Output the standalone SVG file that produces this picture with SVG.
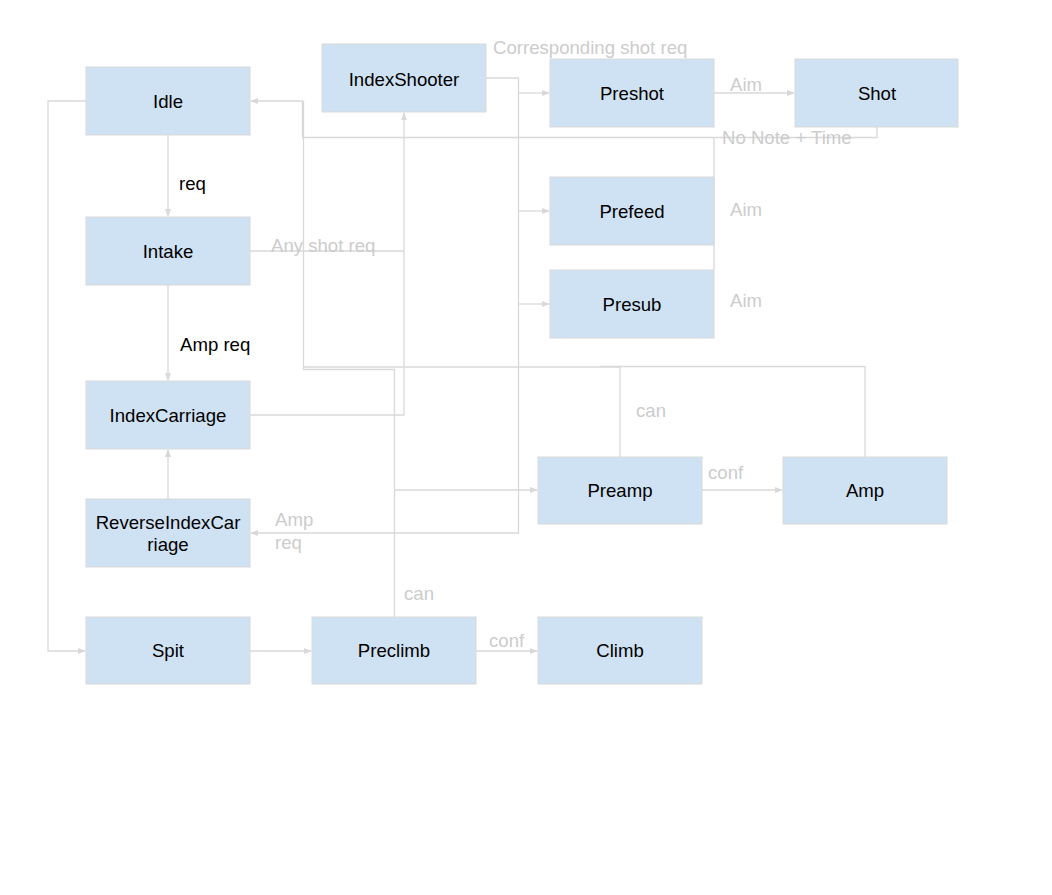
<svg xmlns="http://www.w3.org/2000/svg" width="1052" height="895" viewBox="0 0 1052 895">
<defs>
<style>
.n rect{fill:#cfe2f3;stroke:#d9d9d9;stroke-width:1}
.n text{font-family:"Liberation Sans",Arial,sans-serif;font-size:18.6px;fill:#000;text-anchor:middle}
.c path{fill:none;stroke:#d9d9d9;stroke-width:1.3}
.lb{font-family:"Liberation Sans",Arial,sans-serif;font-size:18.6px;fill:#cccccc}
.lk{font-family:"Liberation Sans",Arial,sans-serif;font-size:18.6px;fill:#000}
</style>
<marker id="a" markerWidth="8" markerHeight="6" refX="7" refY="3" orient="auto" markerUnits="userSpaceOnUse">
<path d="M0,0 L8,3 L0,6 Z" fill="#d9d9d9"/>
</marker>
</defs>
<rect width="1052" height="895" fill="#fff"/>
<g class="c" id="connectors">
<path d="M168,135 V216" marker-end="url(#a)"/>
<path d="M168,285 V380" marker-end="url(#a)"/>
<path d="M168,499 V450" marker-end="url(#a)"/>
<path d="M86,101 H48 V651 H85" marker-end="url(#a)"/>
<path d="M250,651 H311" marker-end="url(#a)"/>
<path d="M476,651 H537" marker-end="url(#a)"/>
<path d="M714,93 H794" marker-end="url(#a)"/>
<path d="M702,490 H782" marker-end="url(#a)"/>
<path d="M486,78 H518.5 V533 H251" marker-end="url(#a)"/>
<path d="M518.5,93 H549" marker-end="url(#a)"/>
<path d="M518.5,211 H549" marker-end="url(#a)"/>
<path d="M518.5,304 H549" marker-end="url(#a)"/>
<path d="M250,251 H404"/>
<path d="M250,415 H404 V113" marker-end="url(#a)"/>
<path d="M877,127 V137.5 H302.5 V101 H251" marker-end="url(#a)"/>
<path d="M303.5,101 V369"/>
<path d="M714,137.5 V270"/>
<path d="M620,457 V367 H303"/>
<path d="M865,457 V366.5 H600"/>
<path d="M394.5,617 V369.5 H303"/>
<path d="M394.5,490 H537" marker-end="url(#a)"/>
</g>
<g id="n-idle" class="n"><rect x="86" y="67" width="164" height="68"/><text x="168" y="108">Idle</text></g>
<g id="n-intake" class="n"><rect x="86" y="217" width="164" height="68"/><text x="168" y="258">Intake</text></g>
<g id="n-indexcarriage" class="n"><rect x="86" y="381" width="164" height="68"/><text x="168" y="422">IndexCarriage</text></g>
<g id="n-reverseindexcarriage" class="n"><rect x="86" y="499" width="164" height="68"/><text x="168" y="529">ReverseIndexCar</text><text x="168" y="551">riage</text></g>
<g id="n-spit" class="n"><rect x="86" y="617" width="164" height="67"/><text x="168" y="657">Spit</text></g>
<g id="n-preclimb" class="n"><rect x="312" y="617" width="164" height="67"/><text x="394" y="657">Preclimb</text></g>
<g id="n-climb" class="n"><rect x="538" y="617" width="164" height="67"/><text x="620" y="657">Climb</text></g>
<g id="n-indexshooter" class="n"><rect x="322" y="44" width="164" height="68"/><text x="404" y="86">IndexShooter</text></g>
<g id="n-preshot" class="n"><rect x="550" y="59" width="164" height="68"/><text x="632" y="100">Preshot</text></g>
<g id="n-shot" class="n"><rect x="795" y="59" width="163" height="68"/><text x="877" y="100">Shot</text></g>
<g id="n-prefeed" class="n"><rect x="550" y="177" width="164" height="68"/><text x="632" y="218">Prefeed</text></g>
<g id="n-presub" class="n"><rect x="550" y="270" width="164" height="68"/><text x="632" y="311">Presub</text></g>
<g id="n-preamp" class="n"><rect x="538" y="457" width="164" height="67"/><text x="620" y="497">Preamp</text></g>
<g id="n-amp" class="n"><rect x="783" y="457" width="164" height="67"/><text x="865" y="497">Amp</text></g>
<g id="labels">
<text class="lk" x="179" y="190">req</text>
<text class="lk" x="180" y="351">Amp req</text>
<text class="lb" x="271" y="252">Any shot req</text>
<text class="lb" x="493" y="54">Corresponding shot req</text>
<text class="lb" x="730" y="91">Aim</text>
<text class="lb" x="730" y="216">Aim</text>
<text class="lb" x="730" y="307">Aim</text>
<text class="lb" x="722" y="144">No Note + Time</text>
<text class="lb" x="275" y="526">Amp</text>
<text class="lb" x="275" y="549">req</text>
<text class="lb" x="636" y="417">can</text>
<text class="lb" x="708" y="479">conf</text>
<text class="lb" x="404" y="600">can</text>
<text class="lb" x="489" y="647">conf</text>
</g>
</svg>
